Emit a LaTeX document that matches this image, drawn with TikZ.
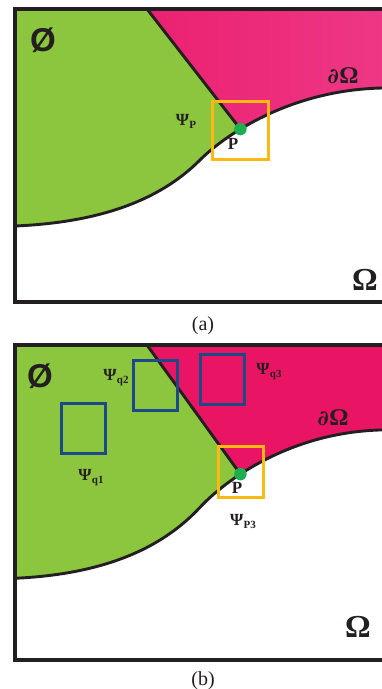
\documentclass[tikz,border=0pt]{standalone}
\usepackage{fontspec}
\setmainfont{Liberation Serif}
\newfontfamily\ssf{Liberation Sans}
\newfontfamily\dvs{DejaVu Serif}
\definecolor{leaf}{RGB}{140,198,63}
\definecolor{rose}{RGB}{234,20,100}
\definecolor{roseR}{RGB}{238,60,138}
\definecolor{amber}{RGB}{253,185,19}
\definecolor{navy}{RGB}{28,74,134}
\definecolor{dotc}{RGB}{30,174,80}
\definecolor{ink}{RGB}{35,31,32}
\tikzset{
 bd/.style={line width=3.1pt, draw=ink},
 edgeline/.style={line width=2.9pt, draw=ink},
 win/.style={line width=3pt, draw=amber},
 qbox/.style={line width=3pt, draw=navy},
 lab/.style={inner sep=0pt, text=ink, font=\bfseries\fontsize{17}{17}\selectfont},
 big/.style={inner sep=0pt, text=ink, font=\bfseries\fontsize{#1}{#1}\selectfont},
 captxt/.style={inner sep=0pt, text=ink, font=\fontsize{20}{20}\selectfont},
 pdot/.style={circle, fill=dotc, inner sep=0pt, minimum size=12.5pt},
}
\newcommand\curvepath{(15,217) .. controls (110,213) and (165,186) .. (200,151) .. controls (225,126) and (290,81) .. (382,79) -- (430,79)}
\newcommand\psisub[1]{Ψ\kern0.3pt\raisebox{-3pt}{\fontsize{11}{11}\selectfont #1}}
\newcommand\dOmega{{\dvs\bfseries\fontsize{21}{21}\selectfont ∂}\kern0.5pt Ω}
\newcommand\drawpanel[2]{%
 \fill[#1] \curvepath -- (430,0) -- (15,0) -- cycle;
 \begin{scope}
  \clip (15,0) -- (147,0) -- (240.4,120.1) -- (240.4,320) -- (0,320) -- cycle;
  \fill[leaf] \curvepath -- (430,0) -- (15,0) -- cycle;
 \end{scope}
 \draw[edgeline] (147,0) -- (240.4,120.1);
 \draw[edgeline] \curvepath;
 \draw[bd] (15,0) rectangle (430,293);
 \node[pdot] (#2) at (240.4,120.1) {};
}
\begin{document}
\begin{tikzpicture}[x=1pt,y=-1pt]
\useasboundingbox (0,0) rectangle (382,689);
\clip (0,0) rectangle (382,689);
\fill[white] (0,0) rectangle (382,689);
% panel (a)
\begin{scope}[shift={(0,9)}]
 \drawpanel{left color=rose, right color=roseR}{Pa}
\end{scope}
\draw[win] (212,101) rectangle (268,159);
\node[big=32, font=\ssf\bfseries\fontsize{33}{33}\selectfont] (oa) at (43,40) {Ø};
\node[big=24] (da) at (343,76) {\dOmega};
\node[big=32] (wa) at (365,280) {Ω};
\node[lab] (psia) at (186,121) {\psisub{P}};
\node[big=17] (pa) at (233,144) {P};
\node[captxt] (capa) at (203,326) {(a)};
% panel (b)
\begin{scope}[shift={(0,345)}, yscale=1.075]
 \drawpanel{rose}{Pb}
\end{scope}
\draw[qbox] (61,403) rectangle (105,453);
\draw[qbox] (133,360) rectangle (177,410);
\draw[qbox] (200,354) rectangle (244,404);
\draw[win] (218,446) rectangle (263,497);
\node[big=32, font=\ssf\bfseries\fontsize{33}{33}\selectfont] (ob) at (40,376) {Ø};
\node[big=24] (db) at (333,418) {\dOmega};
\node[big=32] (wb) at (358,627) {Ω};
\node[lab] (q2) at (116,378) {\psisub{q2}};
\node[lab] (q3) at (269,372) {\psisub{q3}};
\node[lab] (q1) at (91,478) {\psisub{q1}};
\node[lab] (p3) at (243,521) {\psisub{P3}};
\node[big=17] (pb) at (237,488) {P};
\node[captxt] (capb) at (203,681) {(b)};
\end{tikzpicture}
\end{document}
